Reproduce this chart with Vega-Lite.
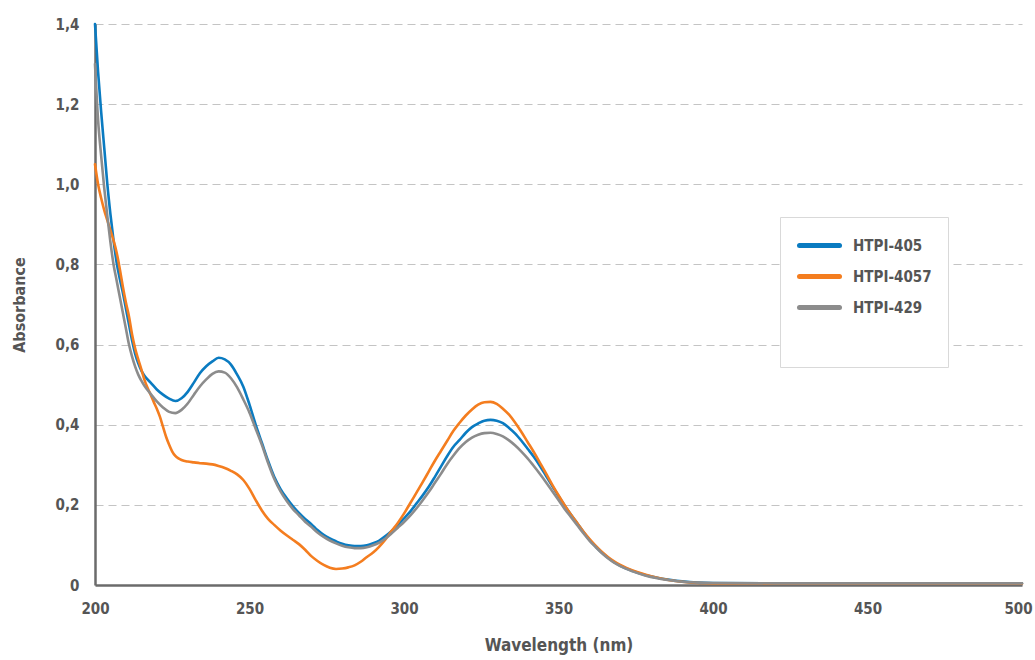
{
"$schema": "https://vega.github.io/schema/vega-lite/v6.json",
"width": 927, "height": 561,
"autosize": "none",
"padding": {"left": 95, "top": 24, "right": 13, "bottom": 75},
"config": {"font": "DejaVu Sans Condensed, DejaVu Sans, sans-serif", "view": {"stroke": null}},
"data": {"values": [
{"w":200,"s":"HTPI-405","a":1.40},{"w":201,"s":"HTPI-405","a":1.28},{"w":202,"s":"HTPI-405","a":1.18},{"w":203,"s":"HTPI-405","a":1.09},{"w":204,"s":"HTPI-405","a":1.00},{"w":205,"s":"HTPI-405","a":0.925},{"w":206,"s":"HTPI-405","a":0.86},{"w":207,"s":"HTPI-405","a":0.805},{"w":208,"s":"HTPI-405","a":0.765},{"w":209,"s":"HTPI-405","a":0.73},{"w":210,"s":"HTPI-405","a":0.69},{"w":211,"s":"HTPI-405","a":0.65},{"w":212,"s":"HTPI-405","a":0.61},{"w":213,"s":"HTPI-405","a":0.577},{"w":214,"s":"HTPI-405","a":0.553},{"w":215,"s":"HTPI-405","a":0.535},{"w":216,"s":"HTPI-405","a":0.522},{"w":218,"s":"HTPI-405","a":0.505},{"w":220,"s":"HTPI-405","a":0.488},{"w":222,"s":"HTPI-405","a":0.475},{"w":224,"s":"HTPI-405","a":0.465},{"w":226,"s":"HTPI-405","a":0.459},{"w":228,"s":"HTPI-405","a":0.466},{"w":230,"s":"HTPI-405","a":0.482},{"w":232,"s":"HTPI-405","a":0.505},{"w":234,"s":"HTPI-405","a":0.529},{"w":236,"s":"HTPI-405","a":0.546},{"w":238,"s":"HTPI-405","a":0.558},{"w":240,"s":"HTPI-405","a":0.567},{"w":242,"s":"HTPI-405","a":0.563},{"w":244,"s":"HTPI-405","a":0.550},{"w":246,"s":"HTPI-405","a":0.525},{"w":248,"s":"HTPI-405","a":0.495},{"w":250,"s":"HTPI-405","a":0.450},{"w":252,"s":"HTPI-405","a":0.400},{"w":254,"s":"HTPI-405","a":0.355},{"w":256,"s":"HTPI-405","a":0.31},{"w":258,"s":"HTPI-405","a":0.27},{"w":260,"s":"HTPI-405","a":0.24},{"w":262,"s":"HTPI-405","a":0.217},{"w":264,"s":"HTPI-405","a":0.197},{"w":266,"s":"HTPI-405","a":0.18},{"w":268,"s":"HTPI-405","a":0.165},{"w":270,"s":"HTPI-405","a":0.152},{"w":272,"s":"HTPI-405","a":0.137},{"w":274,"s":"HTPI-405","a":0.125},{"w":276,"s":"HTPI-405","a":0.116},{"w":278,"s":"HTPI-405","a":0.109},{"w":280,"s":"HTPI-405","a":0.103},{"w":282,"s":"HTPI-405","a":0.099},{"w":284,"s":"HTPI-405","a":0.097},{"w":286,"s":"HTPI-405","a":0.097},{"w":288,"s":"HTPI-405","a":0.099},{"w":290,"s":"HTPI-405","a":0.104},{"w":292,"s":"HTPI-405","a":0.111},{"w":294,"s":"HTPI-405","a":0.122},{"w":296,"s":"HTPI-405","a":0.135},{"w":298,"s":"HTPI-405","a":0.150},{"w":300,"s":"HTPI-405","a":0.166},{"w":302,"s":"HTPI-405","a":0.183},{"w":304,"s":"HTPI-405","a":0.203},{"w":306,"s":"HTPI-405","a":0.223},{"w":308,"s":"HTPI-405","a":0.245},{"w":310,"s":"HTPI-405","a":0.270},{"w":312,"s":"HTPI-405","a":0.296},{"w":314,"s":"HTPI-405","a":0.322},{"w":316,"s":"HTPI-405","a":0.345},{"w":318,"s":"HTPI-405","a":0.362},{"w":320,"s":"HTPI-405","a":0.380},{"w":322,"s":"HTPI-405","a":0.394},{"w":324,"s":"HTPI-405","a":0.403},{"w":326,"s":"HTPI-405","a":0.410},{"w":328,"s":"HTPI-405","a":0.412},{"w":330,"s":"HTPI-405","a":0.410},{"w":332,"s":"HTPI-405","a":0.404},{"w":334,"s":"HTPI-405","a":0.392},{"w":336,"s":"HTPI-405","a":0.378},{"w":338,"s":"HTPI-405","a":0.360},{"w":340,"s":"HTPI-405","a":0.340},{"w":342,"s":"HTPI-405","a":0.320},{"w":344,"s":"HTPI-405","a":0.297},{"w":346,"s":"HTPI-405","a":0.272},{"w":348,"s":"HTPI-405","a":0.247},{"w":350,"s":"HTPI-405","a":0.222},{"w":352,"s":"HTPI-405","a":0.198},{"w":354,"s":"HTPI-405","a":0.176},{"w":356,"s":"HTPI-405","a":0.155},{"w":358,"s":"HTPI-405","a":0.133},{"w":360,"s":"HTPI-405","a":0.113},{"w":362,"s":"HTPI-405","a":0.096},{"w":364,"s":"HTPI-405","a":0.081},{"w":366,"s":"HTPI-405","a":0.068},{"w":368,"s":"HTPI-405","a":0.057},{"w":370,"s":"HTPI-405","a":0.048},{"w":374,"s":"HTPI-405","a":0.035},{"w":378,"s":"HTPI-405","a":0.025},{"w":382,"s":"HTPI-405","a":0.018},{"w":386,"s":"HTPI-405","a":0.013},{"w":390,"s":"HTPI-405","a":0.009},{"w":395,"s":"HTPI-405","a":0.006},{"w":400,"s":"HTPI-405","a":0.005},{"w":420,"s":"HTPI-405","a":0.004},{"w":450,"s":"HTPI-405","a":0.004},{"w":480,"s":"HTPI-405","a":0.004},{"w":500,"s":"HTPI-405","a":0.004},

{"w":200,"s":"HTPI-4057","a":1.05},{"w":201,"s":"HTPI-4057","a":1.00},{"w":202,"s":"HTPI-4057","a":0.965},{"w":203,"s":"HTPI-4057","a":0.935},{"w":204,"s":"HTPI-4057","a":0.91},{"w":205,"s":"HTPI-4057","a":0.885},{"w":206,"s":"HTPI-4057","a":0.86},{"w":207,"s":"HTPI-4057","a":0.83},{"w":208,"s":"HTPI-4057","a":0.79},{"w":209,"s":"HTPI-4057","a":0.745},{"w":210,"s":"HTPI-4057","a":0.705},{"w":211,"s":"HTPI-4057","a":0.67},{"w":212,"s":"HTPI-4057","a":0.625},{"w":213,"s":"HTPI-4057","a":0.59},{"w":214,"s":"HTPI-4057","a":0.563},{"w":215,"s":"HTPI-4057","a":0.538},{"w":216,"s":"HTPI-4057","a":0.512},{"w":217,"s":"HTPI-4057","a":0.492},{"w":218,"s":"HTPI-4057","a":0.475},{"w":219,"s":"HTPI-4057","a":0.457},{"w":220,"s":"HTPI-4057","a":0.44},{"w":221,"s":"HTPI-4057","a":0.42},{"w":222,"s":"HTPI-4057","a":0.395},{"w":223,"s":"HTPI-4057","a":0.37},{"w":224,"s":"HTPI-4057","a":0.35},{"w":225,"s":"HTPI-4057","a":0.333},{"w":226,"s":"HTPI-4057","a":0.322},{"w":227,"s":"HTPI-4057","a":0.316},{"w":228,"s":"HTPI-4057","a":0.312},{"w":230,"s":"HTPI-4057","a":0.308},{"w":232,"s":"HTPI-4057","a":0.306},{"w":234,"s":"HTPI-4057","a":0.304},{"w":236,"s":"HTPI-4057","a":0.303},{"w":238,"s":"HTPI-4057","a":0.301},{"w":240,"s":"HTPI-4057","a":0.297},{"w":242,"s":"HTPI-4057","a":0.292},{"w":244,"s":"HTPI-4057","a":0.285},{"w":246,"s":"HTPI-4057","a":0.276},{"w":248,"s":"HTPI-4057","a":0.262},{"w":250,"s":"HTPI-4057","a":0.24},{"w":252,"s":"HTPI-4057","a":0.212},{"w":254,"s":"HTPI-4057","a":0.186},{"w":256,"s":"HTPI-4057","a":0.165},{"w":258,"s":"HTPI-4057","a":0.150},{"w":260,"s":"HTPI-4057","a":0.136},{"w":262,"s":"HTPI-4057","a":0.124},{"w":264,"s":"HTPI-4057","a":0.113},{"w":266,"s":"HTPI-4057","a":0.102},{"w":268,"s":"HTPI-4057","a":0.088},{"w":270,"s":"HTPI-4057","a":0.072},{"w":272,"s":"HTPI-4057","a":0.060},{"w":274,"s":"HTPI-4057","a":0.050},{"w":276,"s":"HTPI-4057","a":0.043},{"w":278,"s":"HTPI-4057","a":0.040},{"w":280,"s":"HTPI-4057","a":0.041},{"w":282,"s":"HTPI-4057","a":0.044},{"w":284,"s":"HTPI-4057","a":0.049},{"w":286,"s":"HTPI-4057","a":0.058},{"w":288,"s":"HTPI-4057","a":0.070},{"w":290,"s":"HTPI-4057","a":0.081},{"w":292,"s":"HTPI-4057","a":0.096},{"w":294,"s":"HTPI-4057","a":0.114},{"w":296,"s":"HTPI-4057","a":0.135},{"w":298,"s":"HTPI-4057","a":0.155},{"w":300,"s":"HTPI-4057","a":0.178},{"w":302,"s":"HTPI-4057","a":0.204},{"w":304,"s":"HTPI-4057","a":0.23},{"w":306,"s":"HTPI-4057","a":0.256},{"w":308,"s":"HTPI-4057","a":0.283},{"w":310,"s":"HTPI-4057","a":0.31},{"w":312,"s":"HTPI-4057","a":0.335},{"w":314,"s":"HTPI-4057","a":0.36},{"w":316,"s":"HTPI-4057","a":0.385},{"w":318,"s":"HTPI-4057","a":0.405},{"w":320,"s":"HTPI-4057","a":0.423},{"w":322,"s":"HTPI-4057","a":0.438},{"w":324,"s":"HTPI-4057","a":0.45},{"w":326,"s":"HTPI-4057","a":0.456},{"w":328,"s":"HTPI-4057","a":0.457},{"w":330,"s":"HTPI-4057","a":0.452},{"w":332,"s":"HTPI-4057","a":0.44},{"w":334,"s":"HTPI-4057","a":0.425},{"w":336,"s":"HTPI-4057","a":0.405},{"w":338,"s":"HTPI-4057","a":0.382},{"w":340,"s":"HTPI-4057","a":0.357},{"w":342,"s":"HTPI-4057","a":0.332},{"w":344,"s":"HTPI-4057","a":0.305},{"w":346,"s":"HTPI-4057","a":0.278},{"w":348,"s":"HTPI-4057","a":0.25},{"w":350,"s":"HTPI-4057","a":0.224},{"w":352,"s":"HTPI-4057","a":0.199},{"w":354,"s":"HTPI-4057","a":0.176},{"w":356,"s":"HTPI-4057","a":0.155},{"w":358,"s":"HTPI-4057","a":0.134},{"w":360,"s":"HTPI-4057","a":0.115},{"w":362,"s":"HTPI-4057","a":0.098},{"w":364,"s":"HTPI-4057","a":0.083},{"w":366,"s":"HTPI-4057","a":0.07},{"w":368,"s":"HTPI-4057","a":0.059},{"w":370,"s":"HTPI-4057","a":0.05},{"w":374,"s":"HTPI-4057","a":0.036},{"w":378,"s":"HTPI-4057","a":0.026},{"w":382,"s":"HTPI-4057","a":0.018},{"w":386,"s":"HTPI-4057","a":0.012},{"w":390,"s":"HTPI-4057","a":0.008},{"w":395,"s":"HTPI-4057","a":0.005},{"w":400,"s":"HTPI-4057","a":0.004},{"w":420,"s":"HTPI-4057","a":0.003},{"w":450,"s":"HTPI-4057","a":0.003},{"w":480,"s":"HTPI-4057","a":0.003},{"w":500,"s":"HTPI-4057","a":0.003},

{"w":200,"s":"HTPI-429","a":1.30},{"w":201,"s":"HTPI-429","a":1.16},{"w":202,"s":"HTPI-429","a":1.07},{"w":203,"s":"HTPI-429","a":0.99},{"w":204,"s":"HTPI-429","a":0.92},{"w":205,"s":"HTPI-429","a":0.855},{"w":206,"s":"HTPI-429","a":0.80},{"w":207,"s":"HTPI-429","a":0.76},{"w":208,"s":"HTPI-429","a":0.72},{"w":209,"s":"HTPI-429","a":0.68},{"w":210,"s":"HTPI-429","a":0.64},{"w":211,"s":"HTPI-429","a":0.60},{"w":212,"s":"HTPI-429","a":0.57},{"w":213,"s":"HTPI-429","a":0.545},{"w":214,"s":"HTPI-429","a":0.525},{"w":215,"s":"HTPI-429","a":0.51},{"w":216,"s":"HTPI-429","a":0.497},{"w":218,"s":"HTPI-429","a":0.477},{"w":220,"s":"HTPI-429","a":0.458},{"w":222,"s":"HTPI-429","a":0.443},{"w":224,"s":"HTPI-429","a":0.432},{"w":226,"s":"HTPI-429","a":0.429},{"w":228,"s":"HTPI-429","a":0.437},{"w":230,"s":"HTPI-429","a":0.453},{"w":232,"s":"HTPI-429","a":0.475},{"w":234,"s":"HTPI-429","a":0.496},{"w":236,"s":"HTPI-429","a":0.513},{"w":238,"s":"HTPI-429","a":0.527},{"w":240,"s":"HTPI-429","a":0.533},{"w":242,"s":"HTPI-429","a":0.530},{"w":244,"s":"HTPI-429","a":0.516},{"w":246,"s":"HTPI-429","a":0.493},{"w":248,"s":"HTPI-429","a":0.463},{"w":250,"s":"HTPI-429","a":0.43},{"w":252,"s":"HTPI-429","a":0.39},{"w":254,"s":"HTPI-429","a":0.35},{"w":256,"s":"HTPI-429","a":0.305},{"w":258,"s":"HTPI-429","a":0.265},{"w":260,"s":"HTPI-429","a":0.234},{"w":262,"s":"HTPI-429","a":0.21},{"w":264,"s":"HTPI-429","a":0.19},{"w":266,"s":"HTPI-429","a":0.174},{"w":268,"s":"HTPI-429","a":0.158},{"w":270,"s":"HTPI-429","a":0.145},{"w":272,"s":"HTPI-429","a":0.131},{"w":274,"s":"HTPI-429","a":0.12},{"w":276,"s":"HTPI-429","a":0.111},{"w":278,"s":"HTPI-429","a":0.104},{"w":280,"s":"HTPI-429","a":0.098},{"w":282,"s":"HTPI-429","a":0.094},{"w":284,"s":"HTPI-429","a":0.092},{"w":286,"s":"HTPI-429","a":0.092},{"w":288,"s":"HTPI-429","a":0.094},{"w":290,"s":"HTPI-429","a":0.099},{"w":292,"s":"HTPI-429","a":0.106},{"w":294,"s":"HTPI-429","a":0.116},{"w":296,"s":"HTPI-429","a":0.129},{"w":298,"s":"HTPI-429","a":0.143},{"w":300,"s":"HTPI-429","a":0.157},{"w":302,"s":"HTPI-429","a":0.173},{"w":304,"s":"HTPI-429","a":0.191},{"w":306,"s":"HTPI-429","a":0.211},{"w":308,"s":"HTPI-429","a":0.232},{"w":310,"s":"HTPI-429","a":0.255},{"w":312,"s":"HTPI-429","a":0.278},{"w":314,"s":"HTPI-429","a":0.302},{"w":316,"s":"HTPI-429","a":0.323},{"w":318,"s":"HTPI-429","a":0.342},{"w":320,"s":"HTPI-429","a":0.357},{"w":322,"s":"HTPI-429","a":0.368},{"w":324,"s":"HTPI-429","a":0.375},{"w":326,"s":"HTPI-429","a":0.379},{"w":328,"s":"HTPI-429","a":0.380},{"w":330,"s":"HTPI-429","a":0.377},{"w":332,"s":"HTPI-429","a":0.371},{"w":334,"s":"HTPI-429","a":0.361},{"w":336,"s":"HTPI-429","a":0.348},{"w":338,"s":"HTPI-429","a":0.333},{"w":340,"s":"HTPI-429","a":0.316},{"w":342,"s":"HTPI-429","a":0.297},{"w":344,"s":"HTPI-429","a":0.277},{"w":346,"s":"HTPI-429","a":0.256},{"w":348,"s":"HTPI-429","a":0.234},{"w":350,"s":"HTPI-429","a":0.212},{"w":352,"s":"HTPI-429","a":0.19},{"w":354,"s":"HTPI-429","a":0.17},{"w":356,"s":"HTPI-429","a":0.15},{"w":358,"s":"HTPI-429","a":0.13},{"w":360,"s":"HTPI-429","a":0.111},{"w":362,"s":"HTPI-429","a":0.095},{"w":364,"s":"HTPI-429","a":0.08},{"w":366,"s":"HTPI-429","a":0.067},{"w":368,"s":"HTPI-429","a":0.056},{"w":370,"s":"HTPI-429","a":0.047},{"w":374,"s":"HTPI-429","a":0.034},{"w":378,"s":"HTPI-429","a":0.024},{"w":382,"s":"HTPI-429","a":0.017},{"w":386,"s":"HTPI-429","a":0.012},{"w":390,"s":"HTPI-429","a":0.008},{"w":395,"s":"HTPI-429","a":0.006},{"w":400,"s":"HTPI-429","a":0.005},{"w":420,"s":"HTPI-429","a":0.004},{"w":450,"s":"HTPI-429","a":0.004},{"w":480,"s":"HTPI-429","a":0.004},{"w":500,"s":"HTPI-429","a":0.004}
]},
"mark": {"type": "line", "strokeWidth": 2.6, "interpolate": "monotone", "strokeCap": "round", "strokeJoin": "round"},
"encoding": {
 "x": {"field": "w", "type": "quantitative", "scale": {"domain": [200, 500], "nice": false},
  "axis": {"title": "Wavelength (nm)", "values": [200,250,300,350,400,450,500], "grid": false, "ticks": false,
   "domainColor": "#6b6b6b", "domainWidth": 2.5, "labelFlush": false, "labelOverlap": false,
   "labelOffset": {"condition": {"test": "datum.value == 500", "value": -4}, "value": 0},
   "labelFontSize": 15, "labelFontWeight": "bold", "labelColor": "#555555", "labelPadding": 16,
   "titleFontSize": 17, "titleFontWeight": "bold", "titleColor": "#555555", "titlePadding": 21}},
 "y": {"field": "a", "type": "quantitative", "scale": {"domain": [0, 1.4], "nice": false},
  "axis": {"title": "Absorbance", "values": [0,0.2,0.4,0.6,0.8,1.0,1.2,1.4], "grid": true, "ticks": false,
   "gridDash": [8,5], "gridColor": "#c4c4c4", "gridWidth": 1.2,
   "domainColor": "#6b6b6b", "domainWidth": 2.5, "labelFlush": false, "labelOverlap": false,
   "labelExpr": "datum.value == 0 ? '0' : replace(format(datum.value, '.1f'), '.', ',')",
   "labelFontSize": 15, "labelFontWeight": "bold", "labelColor": "#555555", "labelPadding": 16,
   "titleFontSize": 16, "titleFontWeight": "bold", "titleColor": "#555555", "titlePadding": 28}},
 "color": {"field": "s", "type": "nominal",
  "scale": {"domain": ["HTPI-405", "HTPI-4057", "HTPI-429"], "range": ["#0a7bc1", "#f47d1f", "#8c8c8c"]},
  "legend": {"orient": "none", "legendX": 685, "legendY": 193, "padding": 16,
   "strokeColor": "#d9d9d9", "fillColor": "white", "symbolType": "M-2,0H2", "symbolStrokeWidth": 5, "symbolSize": 400,
   "symbolOffset": 11, "labelFontSize": 15, "labelFontWeight": "bold", "labelColor": "#555555", "labelOffset": 21, "rowPadding": 8,
   "title": " ", "titleOrient": "bottom", "titleFontSize": 17, "titlePadding": 17,
   "encode": {"symbols": {"update": {"strokeCap": {"value": "round"}}}}}}
}
}
